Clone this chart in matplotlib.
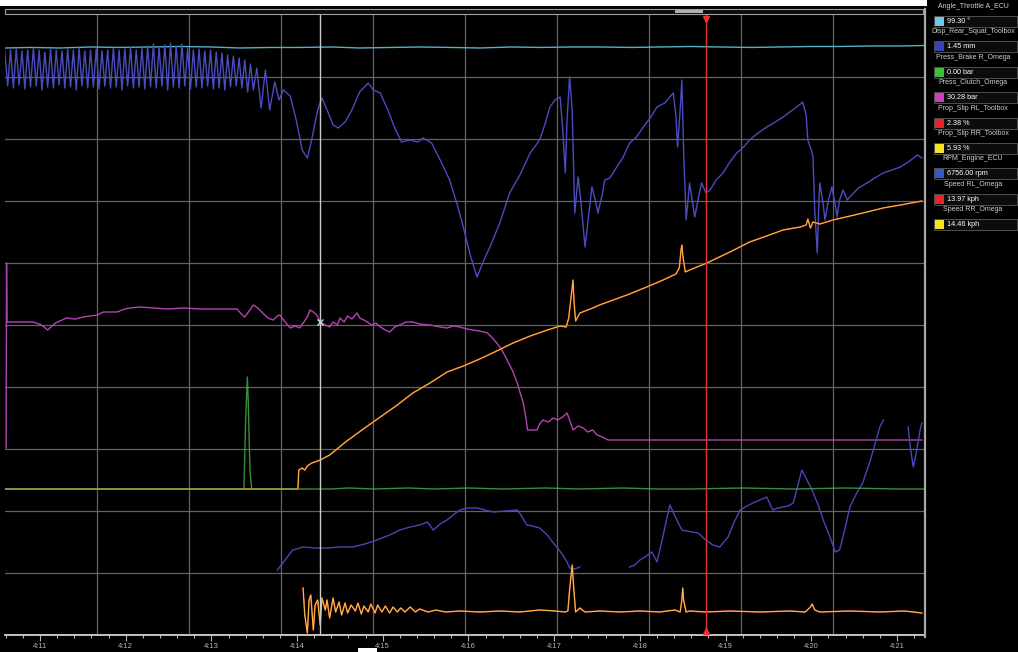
import numpy as np
import matplotlib
matplotlib.use("Agg")
import matplotlib.pyplot as plt
from matplotlib.patches import Rectangle
from matplotlib.ticker import MultipleLocator, FuncFormatter

plt.rcParams["font.family"] = ["Liberation Sans", "DejaVu Sans"]

# ---- logged channels (time in s, values in channel units) -------------------
throttle_t = [250.59, 250.9, 251.23, 251.6, 251.93, 252.3, 252.63, 253.0, 253.33, 253.7,
              254.03, 254.4, 254.73, 255.1, 255.43, 255.8, 256.13, 256.5, 256.83, 257.2,
              257.53, 257.9, 258.23, 258.6, 258.93, 259.3, 259.63, 260.0, 260.33, 260.7,
              261.03, 261.33]
throttle = [99.13, 99.22, 99.13, 99.30, 99.22, 99.30, 99.38, 99.30, 99.13, 99.22,
            99.22, 99.30, 99.13, 99.22, 99.30, 99.22, 99.13, 99.30, 99.22, 99.30,
            99.30, 99.22, 99.30, 99.38, 99.30, 99.22, 99.30, 99.38, 99.38, 99.47,
            99.47, 99.55]

# launch bog, logged at 30 Hz from 250.59 s
rpm_launch = [9570, 8890, 9610, 8850, 9630, 8910, 9590, 8830, 9610, 8870,
              9650, 8890, 9610, 8810, 9570, 8870, 9630, 8850, 9610, 8910,
              9590, 8850, 9630, 8870, 9610, 8810, 9650, 8890, 9590, 8850,
              9610, 8870, 9630, 8830, 9590, 8890, 9610, 8850, 9650, 8870,
              9610, 8810, 9630, 8890, 9670, 8850, 9610, 8870, 9650, 8830,
              9690, 8870, 9730, 8850, 9670, 8890, 9710, 8810, 9750, 8870,
              9690, 8850, 9730, 8890, 9650, 8830, 9610, 8870, 9630, 8850,
              9590, 8890, 9610, 8830, 9570, 8850, 9550, 8810, 9510, 8870,
              9490, 8890, 9450, 8850, 9410, 8770, 9330, 8810]
rpm_t = [253.53, 253.58, 253.63, 253.68, 253.74, 253.79, 253.84, 253.92, 253.99, 254.06,
         254.12, 254.17, 254.24, 254.29, 254.36, 254.42, 254.48, 254.56, 254.64, 254.73,
         254.83, 254.89, 254.97, 255.06, 255.14, 255.22, 255.32, 255.41, 255.47, 255.53,
         255.57, 255.67, 255.78, 255.87, 255.94, 256.02, 256.10, 256.17, 256.25, 256.37,
         256.48, 256.60, 256.72, 256.83, 256.89, 256.95, 257.01, 257.07, 257.10, 257.13,
         257.15, 257.18, 257.21, 257.24, 257.28, 257.31, 257.36, 257.41, 257.44, 257.48,
         257.51, 257.56, 257.59, 257.65, 257.73, 257.80, 257.88, 257.95, 258.04, 258.12,
         258.20, 258.29, 258.34, 258.39, 258.42, 258.44, 258.47, 258.49, 258.51, 258.54,
         258.58, 258.64, 258.69, 258.72, 258.77, 258.82, 258.89, 258.97, 259.05, 259.13,
         259.21, 259.28, 259.38, 259.48, 259.58, 259.67, 259.75, 259.83, 259.90, 259.94,
         259.96, 260.00, 260.02, 260.04, 260.07, 260.09, 260.10, 260.14, 260.16, 260.20,
         260.24, 260.28, 260.30, 260.33, 260.37, 260.42, 260.45, 260.55, 260.65, 260.74,
         260.84, 260.94, 261.04, 261.13, 261.24, 261.29]
rpm = [9250, 8450, 9210, 8410, 8970, 8610, 8810, 8690, 8210, 7610,
       7450, 7810, 8410, 8650, 8370, 8110, 8050, 8170, 8410, 8770,
       8950, 8810, 8750, 8410, 8050, 7770, 7810, 7770, 7850, 7790,
       7750, 7410, 7010, 6510, 6070, 5510, 5070, 5370, 5670, 6170,
       6750, 7110, 7550, 7810, 8110, 8470, 8610, 8670, 8010, 7150,
       8210, 9070, 8410, 6350, 7070, 6610, 5670, 6410, 6870, 6610,
       6350, 6710, 7010, 7050, 7270, 7450, 7750, 7850, 8070, 8250,
       8470, 8550, 8650, 8750, 8310, 7670, 8410, 9010, 7610, 6210,
       6950, 6270, 6710, 6950, 6756, 6810, 7010, 7150, 7370, 7550,
       7670, 7810, 7950, 8070, 8170, 8270, 8370, 8470, 8570, 8310,
       7810, 7610, 7470, 6410, 5550, 6610, 6950, 6510, 6210, 6610,
       6870, 6510, 6270, 6610, 6810, 6610, 6670, 6850, 6950, 7050,
       7150, 7210, 7270, 7370, 7510, 7450]

clutch_t = [250.605, 250.61, 250.615, 250.92, 251.02, 251.09, 251.18, 251.31, 251.41, 251.50,
            251.67, 251.74, 251.90, 251.99, 252.05, 252.17, 252.48, 252.69, 252.87, 253.10,
            253.30, 253.35, 253.39, 253.44, 253.49, 253.54, 253.60, 253.66, 253.72, 253.77,
            253.80, 253.86, 253.92, 253.98, 254.03, 254.08, 254.12, 254.15, 254.19, 254.23,
            254.27, 254.33, 254.38, 254.42, 254.47, 254.50, 254.55, 254.59, 254.64, 254.70,
            254.73, 254.78, 254.82, 254.87, 254.92, 254.97, 255.03, 255.08, 255.14, 255.20,
            255.27, 255.35, 255.43, 255.55, 255.67, 255.75, 255.82, 255.90, 255.98, 256.05,
            256.13, 256.22, 256.27, 256.33, 256.39, 256.45, 256.51, 256.57, 256.60, 256.64,
            256.67, 256.69, 256.75, 256.80, 256.83, 256.87, 256.93, 256.99, 257.04, 257.10,
            257.15, 257.18, 257.22, 257.28, 257.34, 257.39, 257.45, 257.50, 257.56, 257.63,
            261.29]
clutch = [29.5, 48.0, 42.1, 42.1, 41.8, 41.3, 42.0, 42.5, 42.4, 42.6,
          42.8, 43.1, 43.1, 43.4, 43.5, 43.6, 43.4, 43.5, 43.4, 43.4,
          43.4, 42.9, 42.6, 43.2, 43.8, 43.5, 43.0, 42.5, 42.3, 42.7,
          42.8, 42.1, 41.5, 41.7, 41.5, 42.1, 42.6, 43.3, 43.1, 42.8,
          42.1, 41.8, 41.6, 42.1, 41.8, 42.5, 42.1, 42.7, 42.4, 43.0,
          42.5, 42.3, 42.1, 41.8, 42.0, 41.6, 41.3, 41.1, 41.6, 41.8,
          42.1, 42.1, 41.9, 41.8, 41.6, 41.5, 41.7, 41.6, 41.4, 41.3,
          41.2, 41.0, 40.6, 40.0, 39.3, 38.3, 37.3, 36.0, 35.1, 34.0,
          32.5, 31.3, 31.3, 31.3, 31.9, 32.3, 32.1, 32.5, 32.3, 32.6,
          33.0, 32.3, 31.3, 31.7, 31.5, 31.1, 31.3, 30.8, 30.6, 30.3,
          30.3]

brake_t = [250.59, 253.38, 253.40, 253.42, 253.43, 253.45, 253.47, 254.40, 254.60, 254.90,
           255.30, 255.60, 256.00, 256.40, 256.90, 257.30, 257.80, 258.20, 258.60, 259.20,
           259.80, 260.40, 261.00, 261.33]
brake = [0.0, 0.0, 6.9, 11.2, 8.9, 1.9, 0.0, 0.0, 0.1, 0.0,
         0.1, 0.0, 0.1, 0.0, 0.1, 0.0, 0.1, 0.0, 0.0, 0.1,
         0.0, 0.1, 0.0, 0.0]

speed_t = [250.59, 254.01, 254.02, 254.06, 254.09, 254.12, 254.17, 254.27, 254.38, 254.58,
           254.79, 254.97, 255.17, 255.35, 255.55, 255.75, 255.94, 256.13, 256.33, 256.52,
           256.72, 256.92, 257.07, 257.14, 257.17, 257.20, 257.22, 257.23, 257.25, 257.30,
           257.42, 257.53, 257.69, 257.88, 258.08, 258.27, 258.42, 258.46, 258.48, 258.49,
           258.50, 258.53, 258.58, 258.78, 259.05, 259.28, 259.48, 259.67, 259.87, 259.94,
           259.96, 259.99, 260.02, 260.10, 260.25, 260.45, 260.65, 260.84, 261.04, 261.29]
speed_rl = [0.0, 0.0, 1.17, 1.30, 1.17, 1.42, 1.60, 1.79, 2.10, 2.96,
            3.77, 4.44, 5.19, 5.93, 6.54, 7.22, 7.59, 8.02, 8.52, 9.01,
            9.44, 9.81, 10.06, 10.00, 10.56, 11.98, 12.90, 11.67, 10.37, 10.86,
            11.11, 11.36, 11.67, 12.04, 12.47, 12.90, 13.27, 13.64, 14.75, 15.06,
            14.44, 13.40, 13.52, 13.95, 14.63, 15.25, 15.62, 15.99, 16.17, 16.30,
            16.67, 16.11, 16.48, 16.36, 16.60, 16.85, 17.10, 17.35, 17.53, 17.78]
speed_rr = [0.0, 0.0, 1.21, 1.34, 1.21, 1.47, 1.66, 1.85, 2.17, 3.07,
            3.90, 4.60, 5.37, 6.13, 6.77, 7.48, 7.86, 8.31, 8.82, 9.33,
            9.78, 10.16, 10.42, 10.35, 10.93, 12.40, 13.35, 12.08, 10.73, 11.25,
            11.50, 11.76, 12.08, 12.46, 12.91, 13.35, 13.74, 14.12, 15.27, 15.59,
            14.95, 13.87, 13.99, 14.44, 15.14, 15.78, 16.17, 16.55, 16.74, 16.87,
            17.25, 16.68, 17.06, 16.93, 17.19, 17.44, 17.70, 17.96, 18.15, 18.40]

disp_t = [253.77, 253.86, 253.95, 254.07, 254.21, 254.35, 254.50, 254.65, 254.79, 254.93,
          255.08, 255.20, 255.32, 255.43, 255.52, 255.59, 255.67, 255.75, 255.82, 255.90,
          255.99, 256.10, 256.19, 256.29, 256.43, 256.57, 256.62, 256.68, 256.75, 256.83,
          256.92, 256.99, 257.04, 257.10, 257.15, 257.18, 257.24, 257.30, 257.60, 257.88,
          257.94, 258.00, 258.06, 258.14, 258.20, 258.26, 258.31, 258.35, 258.42, 258.49,
          258.61, 258.68, 258.77, 258.85, 258.93, 259.03, 259.10, 259.17, 259.25, 259.32,
          259.40, 259.48, 259.55, 259.61, 259.67, 259.73, 259.79, 259.83, 259.89, 259.95,
          260.01, 260.08, 260.14, 260.21, 260.28, 260.33, 260.39, 260.45, 260.53, 260.60,
          260.69, 260.74, 260.80, 260.84, 261.00, 261.13, 261.16, 261.19, 261.22, 261.27,
          261.29]
disp = [-0.05, 0.45, 0.95, 1.10, 1.05, 1.05, 1.10, 1.10, 1.25, 1.45,
        1.70, 1.95, 2.10, 2.20, 2.35, 1.95, 2.25, 2.45, 2.70, 2.95,
        3.05, 3.05, 2.95, 2.85, 2.90, 2.95, 2.65, 2.20, 2.15, 2.05,
        1.70, 1.30, 1.05, 0.70, 0.35, 0.05, 0.00, 0.10, np.nan, 0.10,
        0.20, 0.45, 0.60, 0.85, 0.35, 1.45, 2.45, 3.20, 2.55, 1.95,
        1.85, 1.80, 1.45, 1.20, 1.10, 1.60, 2.35, 2.95, 3.15, 3.30,
        3.45, 3.60, 2.95, 3.05, 3.10, 3.15, 3.30, 3.95, 4.95, 4.45,
        3.95, 3.20, 2.45, 1.70, 0.85, 0.95, 1.95, 3.10, 3.80, 4.30,
        5.45, 6.20, 7.10, 7.45, np.nan, 7.10, 5.95, 5.10, 5.70, 6.95,
        7.30]

slip_t = [254.07, 254.09, 254.12, 254.14, 254.16, 254.19, 254.21, 254.24, 254.27, 254.29,
          254.33, 254.35, 254.38, 254.42, 254.45, 254.49, 254.52, 254.56, 254.59, 254.63,
          254.68, 254.71, 254.75, 254.78, 254.83, 254.86, 254.91, 254.94, 254.99, 255.03,
          255.08, 255.12, 255.17, 255.21, 255.26, 255.32, 255.38, 255.43, 255.53, 255.62,
          255.73, 255.90, 256.13, 256.37, 256.60, 256.83, 257.01, 257.13, 257.16, 257.18,
          257.21, 257.23, 257.25, 257.30, 257.36, 257.53, 257.77, 258.00, 258.23, 258.41,
          258.47, 258.49, 258.50, 258.51, 258.54, 258.58, 258.77, 259.05, 259.40, 259.75,
          259.93, 259.99, 260.01, 260.04, 260.10, 260.45, 260.80, 261.09, 261.29]
slip_rl = [30.94, -1.19, -22.61, 16.66, 22.61, -19.04, 10.71, 16.66, -13.09, 19.04,
           4.76, 16.66, -4.76, 19.04, 2.38, 14.28, -1.19, 13.09, 1.19, 10.71,
           3.57, 13.09, 0.0, 9.52, 2.38, 11.90, 1.19, 10.71, 2.38, 9.52,
           1.19, 8.33, 2.38, 7.14, 2.38, 8.33, 2.38, 5.95, 2.38, 4.76,
           2.38, 3.57, 2.38, 3.57, 2.38, 4.76, 3.57, 2.38, 3.57, 28.56,
           58.31, 28.56, 2.38, 7.14, 2.38, 3.57, 2.38, 3.57, 2.38, 4.76,
           2.38, 16.66, 30.94, 16.66, 2.38, 3.57, 2.38, 3.57, 2.38, 3.57,
           2.38, 8.33, 11.90, 4.76, 2.38, 3.57, 2.38, 3.57, 1.19]
slip_rr = [77.09, -2.97, -56.34, 41.51, 56.34, -47.44, 26.69, 41.51, -32.62, 47.44,
           11.86, 41.51, -11.86, 47.44, 5.93, 35.58, -2.97, 32.62, 2.97, 26.69,
           8.90, 32.62, 0.0, 23.72, 5.93, 29.65, 2.97, 26.69, 5.93, 23.72,
           2.97, 20.76, 5.93, 17.79, 5.93, 20.76, 5.93, 14.83, 5.93, 11.86,
           5.93, 8.90, 5.93, 8.90, 5.93, 11.86, 8.90, 5.93, 8.90, 71.16,
           145.29, 71.16, 5.93, 17.79, 5.93, 8.90, 5.93, 8.90, 5.93, 11.86,
           5.93, 41.51, 77.09, 41.51, 5.93, 8.90, 5.93, 8.90, 5.93, 8.90,
           5.93, 20.76, 29.65, 11.86, 5.93, 8.90, 5.93, 8.90, 2.97]

cursor_a = 254.27   # white cursor
cursor_b = 258.77   # red cursor

legend_names = ["Angle_Throttle A_ECU", "Disp_Rear_Squat_Toolbox", "Press_Brake R_Omega",
                "Press_Clutch_Omega", "Prop_Slip RL_Toolbox", "Prop_Slip RR_Toolbox",
                "RPM_Engine_ECU", "Speed RL_Omega", "Speed RR_Omega"]
legend_values = ["99.30 °", "1.45 mm", "0.00 bar", "30.28 bar", "2.38 %", "5.93 %",
                 "6756.00 rpm", "13.97 kph", "14.46 kph"]
legend_colors = ["#6cc8e8", "#3444b4", "#3cc03c", "#d23cc0", "#e42626", "#f2e41e",
                 "#3a56c8", "#e42626", "#f2e41e"]

# ---- figure / time axis -----------------------------------------------------
W, H = 1018, 652
L, R, T, B = 5, 925, 15, 635
fig = plt.figure(figsize=(W / 100, H / 100), dpi=100, facecolor="black")
ax = fig.add_axes([L / W, 1 - B / H, (R - L) / W, (B - T) / H])
ax.set_facecolor("black")
ax.set_xlim(250.592, 261.327)
ax.set_ylim(0, 1)
for s in ("top", "left", "right"):
    ax.spines[s].set_visible(False)
ax.spines["bottom"].set_color("#c4c4c4")
ax.spines["bottom"].set_linewidth(1.4)
ax.set_yticks([])
ax.xaxis.set_major_locator(MultipleLocator(1))
ax.xaxis.set_minor_locator(MultipleLocator(0.2))
ax.xaxis.set_major_formatter(FuncFormatter(
    lambda t, _: f"{int(round(t)) // 60}:{int(round(t)) % 60:02d}"))
ax.tick_params(axis="x", which="major", colors="#b4b4b4", length=4.5, width=0.8,
               labelsize=5.5, pad=1.5)
ax.tick_params(axis="x", which="minor", colors="#b4b4b4", length=2.2, width=0.8)

# pane grid: 10 x 10 divisions, independent of the time ticks
for i in range(1, 10):
    ax.plot([i / 10, i / 10], [0, 1], transform=ax.transAxes, color="#626262", lw=0.9)
    ax.axhline(i / 10, color="#626262", lw=0.9)


def channel(t, v, lims, color, lw=1.0, alpha=1.0):
    cax = ax.twinx()
    cax.set_ylim(*lims)
    cax.set_axis_off()
    cax.plot(t, v, color=color, lw=lw, alpha=alpha, solid_joinstyle="round")
    return cax


channel(throttle_t, throttle, (0, 104.7), "#52b2c2")
rpm_all_t = np.concatenate([250.59 + np.arange(len(rpm_launch)) / 30.0, rpm_t])
channel(rpm_all_t, np.concatenate([rpm_launch, rpm]), (-2090, 10310), "#4a4cc0")
cl_ax = channel(clutch_t, clutch, (10.8, 72.8), "#b444b4")
channel(disp_t, disp, (-3.3, 27.7), "#4646b8")
channel(speed_t, speed_rl, (-9.01, 29.26), "#e0401c", lw=1.1)
channel(speed_t, speed_rr, (-9.33, 30.29), "#f0c040", lw=0.7)
channel(brake_t, brake, (-14.6, 47.4), "#44b444", alpha=0.8)
channel(slip_t, slip_rl, (-24.99, 712.8), "#e0401c", lw=1.1)
channel(slip_t, slip_rr, (-62.27, 1776.0), "#f0c850", lw=0.7)

# cursors
cl_ax.plot([cursor_a], [np.interp(cursor_a, clutch_t, clutch)], marker="x", ms=4,
           mew=0.9, color="#e8e8e8")
top = ax.twinx()
top.set_ylim(0, 1)
top.set_axis_off()
top.axvline(cursor_a, color="#cccccc", lw=1.0)
top.axvline(cursor_b, color="#e03434", lw=1.0)
top.plot([cursor_b], [0.994], marker="v", ms=5, color="#f03030", clip_on=False)
top.plot([cursor_b], [0.006], marker="^", ms=5, color="#f03030", clip_on=False)

# ---- window chrome: scroll bar, pane border, channel list --------------------
deco = fig.add_axes([0, 0, 1, 1])
deco.set_xlim(0, W)
deco.set_ylim(H, 0)
deco.set_axis_off()
deco.add_patch(Rectangle((0, 0), 927, 6, fc="white", ec="none"))
deco.add_patch(Rectangle((5, 9), 918, 5, fc="#0c0c0c", ec="#a0a0a0", lw=0.8))
deco.add_patch(Rectangle((675, 9.6), 28, 3.8, fc="#b0b0b0", ec="none"))
deco.plot([925, 925], [9, 637], color="#a8a8a8", lw=1.6)
deco.add_patch(Rectangle((358, 648), 19, 4, fc="white", ec="none"))

for i, (name, val, col) in enumerate(zip(legend_names, legend_values, legend_colors)):
    yn = 6.5 + 25.4 * i
    yv = 21.5 + 25.4 * i
    deco.text(973, yn, name, ha="center", va="center", fontsize=5.0, color="#d0d0d0")
    deco.add_patch(Rectangle((934, yv - 5.5), 83, 11, fc="#0c0c0c", ec="#5c5c5c", lw=0.6))
    deco.add_patch(Rectangle((935.5, yv - 4.5), 9, 9, fc=col, ec="none"))
    deco.text(947, yv, val, ha="left", va="center", fontsize=5.2, color="white")

fig.savefig("out.png", dpi=100, facecolor="black")
